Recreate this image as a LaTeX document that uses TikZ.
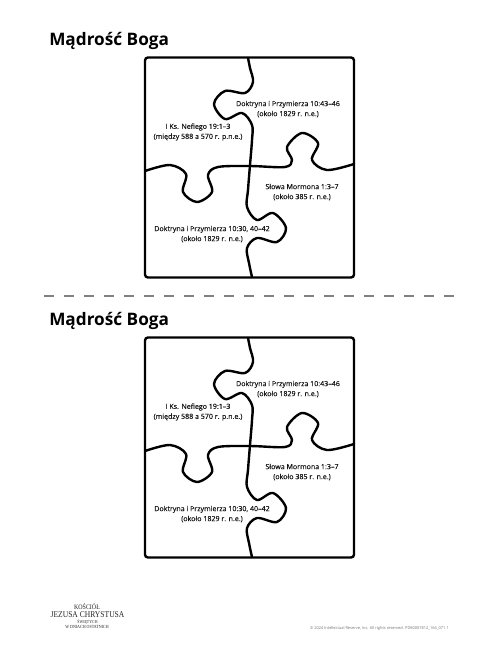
\documentclass[tikz,border=0pt]{standalone}
\usepackage{fontspec}
\setmainfont{Open Sans}
\newfontfamily\logofont[FakeStretch=0.86]{Liberation Serif}
\tikzset{
  x=0.75pt,y=-0.75pt,
  titletext/.style={anchor=base west,inner sep=0pt,font=\fontsize{12.9}{15}\selectfont\bfseries,text=black},
  ref/.style={align=center,inner sep=0pt,font=\addfontfeatures{FakeBold=0.4}\fontsize{5.3}{7.5}\selectfont,text=black!90},
  frame/.style={draw=black,line width=1.8pt,rounded corners=2.2pt},
  cut/.style={draw=black,line width=1.8pt,line join=round,line cap=round},
  logo/.style={inner sep=0pt,text=black!85},
}
\newcommand{\puzzlesheet}[2]{%
\begin{scope}[yshift=#2]
  \node[titletext] (title#1) at (49,45) {Mądrość Boga};
  \node[frame,minimum width=156.75pt,minimum height=165pt,inner sep=0pt] (box#1) at (249.5,167.5) {};
  \draw[cut] plot[smooth,tension=0.55] coordinates {(248,58) (250,68) (253,82) (245,93) (225,91) (214,104) (225,119) (242,113) (252,125) (252,140) (250,165) (248,190) (247,207) (257,220) (273,213) (286,228) (277,242) (257,238) (247,248) (249,263) (252,277)};
  \draw[cut] plot[smooth,tension=0.55] coordinates {(145,171) (170,165) (186,174) (183,192) (197,202) (212,192) (208,175) (218,167) (250,166) (285,167) (292,160) (287,147) (302,133) (318,143) (312,160) (327,170) (354,164)};
  \node[ref] (a#1) at (288,109) {Doktryna i Przymierza 10:43–46\\(około 1829 r. n.e.)};
  \node[ref] (b#1) at (198,132) {I Ks. Nefiego 19:1–3\\(między 588 a 570 r. p.n.e.)};
  \node[ref] (c#1) at (302,192) {Słowa Mormona 1:3–7\\(około 385 r. n.e.)};
  \node[ref] (d#1) at (212,234) {Doktryna i Przymierza 10:30, 40–42\\(około 1829 r. n.e.)};
\end{scope}}
\begin{document}
\begin{tikzpicture}
  \useasboundingbox (0,0) rectangle (500,647);
  \fill[white] (0,0) rectangle (500,647);
  \puzzlesheet{A}{0pt}
  \puzzlesheet{B}{-210pt}
  \coordinate (cutL) at (44,296);
  \coordinate (cutR) at (458,296);
  \draw[draw=black!50,line width=0.9pt,dash pattern=on 7.5pt off 7.5pt] (cutL) -- (cutR);
  \node[logo,font=\logofont\fontsize{5.2}{6}\selectfont] (l1) at (87,606.5) {KOŚCIÓŁ};
  \node[logo,font=\logofont\fontsize{6.6}{8}\selectfont] (l2) at (87.5,615) {JEZUSA CHRYSTUSA};
  \node[logo,font=\logofont\fontsize{3.4}{5}\selectfont] (l3) at (87.5,621.5) {ŚWIĘTYCH};
  \node[logo,font=\logofont\fontsize{3.5}{5}\selectfont] (l4) at (87,627) {W DNIACH OSTATNICH};
  \node[anchor=east,inner sep=0pt,text=black!55,font=\fontsize{2.95}{4}\selectfont] (copy) at (449,628) {© 2024 Intellectual Reserve, Inc. All rights reserved. PD80007812\_166\_071 1};
\end{tikzpicture}
\end{document}
